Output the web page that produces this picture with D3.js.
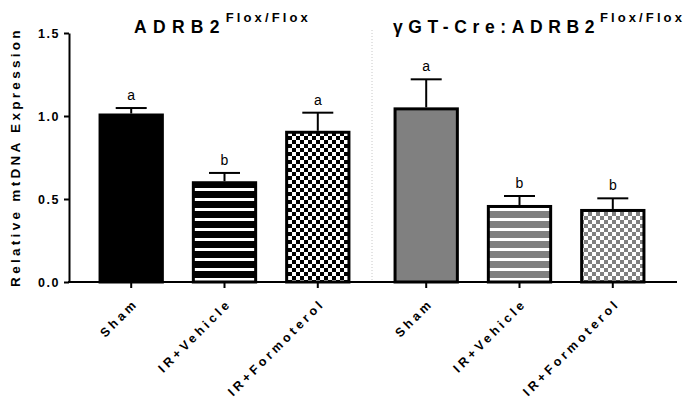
<!DOCTYPE html>
<html>
<head>
<meta charset="utf-8">
<script src="https://cdn.jsdelivr.net/npm/d3@7"></script>
<style>
  body { margin: 0; background: #fff; }
  svg { display: block; font-family: "Liberation Sans", Arial, sans-serif; }
</style>
</head>
<body>
<svg id="chart" width="692" height="404"></svg>
<script>
// data
var groups = ["flox", "cre"];
var treatments = ["Sham", "IR+Vehicle", "IR+Formoterol"];
var floxMeans = [1.015, 0.607, 0.911];
var floxSem = [0.033, 0.050, 0.109];
var creMeans = [1.052, 0.464, 0.440];
var creSem = [0.169, 0.054, 0.064];
var floxLetters = ["a", "b", "a"];
var creLetters = ["a", "b", "b"];
var yTicks = [0, 0.5, 1.0, 1.5];

var svg = d3.select("#chart");

var y = d3.scaleLinear().domain([0, 1.5]).range([282, 33]);
var outer = d3.scaleBand().domain(groups).range([77, 667]);
var inner = d3.scaleBand().domain(treatments).range([0, outer.bandwidth()])
  .paddingInner(0.3).paddingOuter(0.231);

function cx(g, t){
  return outer(g) + inner(t) + inner.bandwidth() / 2;
}

// patterns
var defs = svg.append("defs");
function stripes(id, col){
  var p = defs.append("pattern").attr("id", id).attr("patternUnits", "userSpaceOnUse")
    .attr("width", 10).attr("height", 10).attr("y", 2);
  p.append("rect").attr("width", 10).attr("height", 10).attr("fill", col);
  p.append("rect").attr("y", 6).attr("width", 10).attr("height", 3).attr("fill", "#fff");
}
function checks(id, col){
  var p = defs.append("pattern").attr("id", id).attr("patternUnits", "userSpaceOnUse")
    .attr("width", 8).attr("height", 8);
  p.append("rect").attr("width", 8).attr("height", 8).attr("fill", "#fff");
  p.append("rect").attr("width", 4).attr("height", 4).attr("fill", col);
  p.append("rect").attr("x", 4).attr("y", 4).attr("width", 4).attr("height", 4).attr("fill", col);
}
stripes("stripeK", "#000");
checks("checkK", "#000");
stripes("stripeG", "#808080");
checks("checkG", "#808080");

var fills = {
  flox: ["#000", "url(#stripeK)", "url(#checkK)"],
  cre: ["#808080", "url(#stripeG)", "url(#checkG)"]
};

var rows = [];
treatments.forEach(function(t, i){
  rows.push({g: "flox", t: t, i: i, m: floxMeans[i], e: floxSem[i], l: floxLetters[i]});
});
treatments.forEach(function(t, i){
  rows.push({g: "cre", t: t, i: i, m: creMeans[i], e: creSem[i], l: creLetters[i]});
});

// separator
svg.append("line")
  .attr("x1", outer("cre")).attr("x2", outer("cre"))
  .attr("y1", 30).attr("y2", y(0))
  .attr("stroke", "#c8c8c8").attr("stroke-width", 1).attr("stroke-dasharray", "1,2");

var sw = 3;
var bw = inner.bandwidth();

// error bars
var err = svg.append("g").attr("stroke", "#000").attr("stroke-width", 2);
err.selectAll("line.v").data(rows).enter().append("line")
  .attr("x1", function(d){ return cx(d.g, d.t); })
  .attr("x2", function(d){ return cx(d.g, d.t); })
  .attr("y1", function(d){ return y(d.m); })
  .attr("y2", function(d){ return y(d.m + d.e); });
err.selectAll("line.c").data(rows).enter().append("line")
  .attr("x1", function(d){ return cx(d.g, d.t) - 15.5; })
  .attr("x2", function(d){ return cx(d.g, d.t) + 15.5; })
  .attr("y1", function(d){ return y(d.m + d.e); })
  .attr("y2", function(d){ return y(d.m + d.e); });

// bars
svg.append("g").selectAll("rect").data(rows).enter().append("rect")
  .attr("x", function(d){ return cx(d.g, d.t) - bw / 2 + sw / 2; })
  .attr("y", function(d){ return y(d.m) + sw / 2; })
  .attr("width", bw - sw)
  .attr("height", function(d){ return y(0) - y(d.m) - sw / 2; })
  .attr("fill", function(d){ return fills[d.g][d.i]; })
  .attr("stroke", "#000").attr("stroke-width", sw);

// significance letters
svg.append("g").selectAll("text").data(rows).enter().append("text")
  .attr("x", function(d){ return cx(d.g, d.t); })
  .attr("y", function(d){ return y(d.m + d.e) - 8; })
  .attr("text-anchor", "middle")
  .attr("font-size", 14).attr("fill", "#000")
  .text(function(d){ return d.l; });

// y axis
var yAxis = svg.append("g").attr("transform", "translate(69,0)")
  .call(d3.axisLeft(y).tickValues(yTicks).tickFormat(d3.format(".1f")).tickSize(5).tickSizeOuter(0).tickPadding(4));
yAxis.select(".domain").attr("stroke-width", 2);
yAxis.selectAll(".tick line").attr("stroke-width", 2);
yAxis.selectAll("text").attr("font-size", 12.5).attr("font-weight", "bold")
  .attr("letter-spacing", 1.5).attr("fill", "#000")
  .style("font-family", "'Liberation Sans', Arial, sans-serif");

// x axis
var xa = svg.append("g").attr("stroke", "#000").attr("stroke-width", 2);
xa.append("line").attr("x1", 68).attr("x2", 677).attr("y1", y(0)).attr("y2", y(0));
xa.selectAll("line.t").data(rows).enter().append("line")
  .attr("x1", function(d){ return cx(d.g, d.t); })
  .attr("x2", function(d){ return cx(d.g, d.t); })
  .attr("y1", y(0)).attr("y2", y(0) + 6);

svg.append("g").selectAll("text").data(rows).enter().append("text")
  .attr("transform", function(d){
    return "translate(" + (cx(d.g, d.t) + 8) + "," + (y(0) + 22) + ") rotate(-45)";
  })
  .attr("text-anchor", "end")
  .attr("font-size", 12.5).attr("font-weight", "bold").attr("letter-spacing", 3.5)
  .attr("fill", "#000")
  .text(function(d){ return d.t; });

// y label
svg.append("text")
  .attr("transform", "translate(20,157) rotate(-90)")
  .attr("text-anchor", "middle")
  .attr("font-size", 13.5).attr("font-weight", "bold").attr("letter-spacing", 3.3)
  .text("Relative mtDNA Expression");

// group titles
function title(x, main, ls){
  var t = svg.append("text").attr("x", x).attr("y", 33)
    .attr("font-weight", "bold");
  t.append("tspan").attr("font-size", 17.5).attr("letter-spacing", ls).text(main);
  t.append("tspan").attr("font-size", 13).attr("letter-spacing", 3.1).attr("dy", -11.5).text("Flox/Flox");
}
title(134, "ADRB2", 6.3);
title(393, "\u03b3GT-Cre:ADRB2", 5.6);
</script>
</body>
</html>
